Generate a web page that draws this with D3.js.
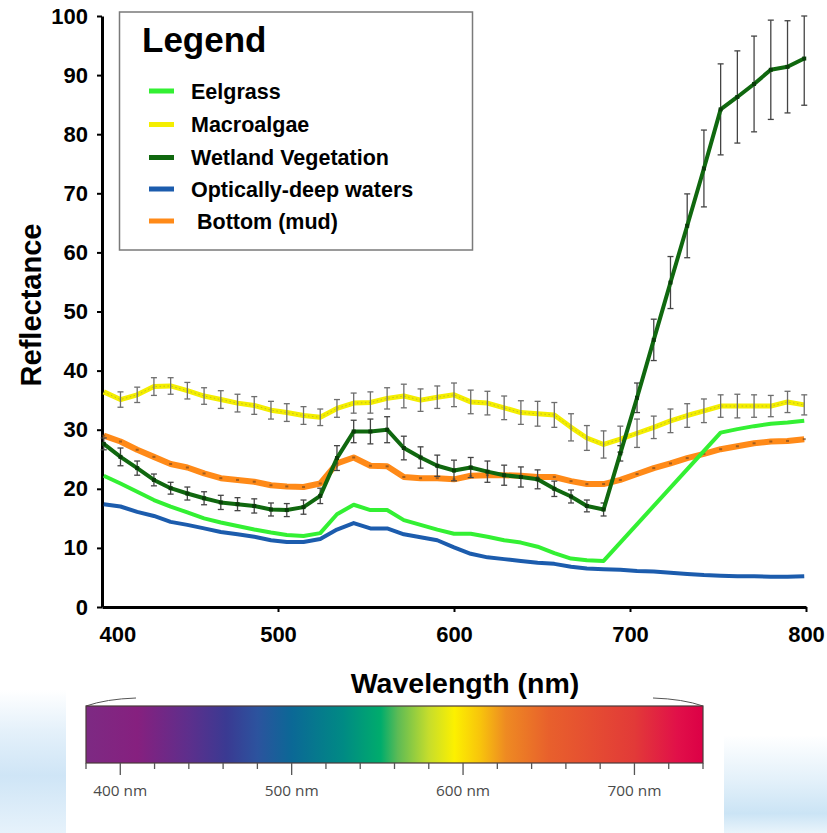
<!DOCTYPE html>
<html>
<head>
<meta charset="utf-8">
<script src="https://cdn.jsdelivr.net/npm/d3@7"></script>
<style>
  body { margin: 0; background: #fff; }
  svg { display: block; font-family: "Liberation Sans", Arial, sans-serif; }
</style>
</head>
<body>
<svg id="chart" width="827" height="833"></svg>
<script>
// band centres (nm)
const wavelengths = [401, 410.5, 420, 429.5, 439, 448.5, 458, 467.5, 477, 486.5, 496, 505, 514.5, 524, 533.5,
  543, 552.5, 562, 571.5, 581, 590.5, 600, 609.5, 619, 628.5, 638, 647.5, 657, 666.5, 675.5, 685, 694.5,
  704, 713.5, 723, 732.5, 742, 751.5, 761, 770.5, 780, 789.5, 799];

const eelgrass = [22.2, 20.9, 19.5, 18.1, 17.0, 16.0, 15.0, 14.3, 13.7, 13.1, 12.6, 12.2, 12.0, 12.5, 15.7,
  17.3, 16.4, 16.4, 14.7, 13.9, 13.1, 12.4, 12.4, 11.9, 11.3, 10.9, 10.2, 9.1, 8.2, 7.9, 7.8, null,
  null, null, null, null, null, 29.5, 30.1, 30.6, 31.0, 31.2, 31.5];

const macroalgae = [36.4, 35.1, 35.9, 37.3, 37.4, 36.6, 35.7, 35.1, 34.5, 34.1, 33.3, 32.9, 32.4, 32.1, 33.6,
  34.5, 34.6, 35.3, 35.7, 35.0, 35.5, 35.9, 34.7, 34.5, 33.7, 32.9, 32.7, 32.5, 30.4, 28.6, 27.5, 28.4,
  29.4, 30.4, 31.5, 32.4, 33.2, 34.0, 34.0, 34.0, 34.0, 34.7, 34.2];
const macroalgaeErr = [0, 1.3, 1.3, 1.5, 1.4, 1.4, 1.4, 1.5, 1.5, 1.5, 1.5, 1.5, 1.5, 1.4, 1.5,
  1.7, 1.8, 1.8, 2.0, 1.9, 1.9, 2.0, 2.0, 2.0, 2.0, 2.0, 2.1, 2.1, 2.3, 2.1, 2.3, 2.2,
  2.4, 1.9, 2.0, 2.0, 2.0, 1.9, 2.0, 1.9, 1.8, 1.8, 1.7];

const wetland = [27.6, 25.4, 23.5, 21.5, 20.1, 19.2, 18.4, 17.7, 17.4, 17.1, 16.5, 16.4, 16.9, 18.8, 25.2,
  29.7, 29.7, 30.0, 26.9, 25.3, 23.9, 23.1, 23.6, 22.9, 22.3, 22.0, 21.6, 20.0, 18.7, 17.1, 16.5, 26.0,
  35.4, 45.2, 54.9, 64.5, 74.2, 84.2, 86.3, 88.5, 90.9, 91.4, 92.8];
const wetlandErr = [1.0, 1.5, 1.2, 1.0, 1.0, 1.1, 1.1, 1.2, 1.1, 1.2, 1.1, 1.1, 1.2, 1.3, 2.1,
  1.9, 2.1, 2.2, 2.0, 1.8, 1.8, 1.75, 1.7, 1.8, 1.7, 1.7, 1.6, 1.3, 1.1, 1.0, 1.1, 1.3,
  2.5, 3.5, 4.4, 5.4, 6.5, 7.7, 7.8, 8.1, 8.4, 7.8, 7.9];

const deepWater = [17.4, 17.0, 16.1, 15.4, 14.4, 13.9, 13.3, 12.7, 12.3, 11.9, 11.3, 11.0, 11.0, 11.5, 13.1,
  14.2, 13.3, 13.3, 12.3, 11.8, 11.3, 10.1, 9.0, 8.4, 8.1, 7.8, 7.5, 7.3, 6.8, 6.5, 6.4, 6.3,
  6.1, 6.0, 5.8, 5.6, 5.4, 5.3, 5.2, 5.2, 5.1, 5.1, 5.2];

const mud = [29.0, 28.0, 26.6, 25.4, 24.2, 23.6, 22.6, 21.8, 21.5, 21.2, 20.6, 20.4, 20.3, 20.9, 24.3,
  25.3, 23.9, 23.8, 22.0, 21.8, 21.8, 21.6, 22.2, 22.3, 22.3, 22.2, 22.0, 22.0, 21.3, 20.8, 20.8, 21.5,
  22.5, 23.5, 24.3, 25.2, 25.9, 26.7, 27.2, 27.7, 28.0, 28.1, 28.4];

const seriesNames = ['Eelgrass', 'Macroalgae', 'Wetland Vegetation', 'Optically-deep waters', ' Bottom (mud)'];
const seriesColors = ['#33f033', '#f4ee00', '#10680f', '#1c5cad', '#ff8a18'];

const yTicks = [0, 10, 20, 30, 40, 50, 60, 70, 80, 90, 100];
const xTicks = [400, 500, 600, 700, 800];

// visible spectrum strip
const spectrumNm = [380, 410, 440, 462, 480, 500, 530, 552, 562, 580, 595, 610, 625, 650, 700, 725, 740];
const spectrumColors = ['#7d2a83', '#86207f', '#5d2f8c', '#3a3a92', '#2c539e', '#0b6896', '#008a84', '#00ac6c',
  '#5dbb55', '#c6dd2c', '#fcf000', '#f8c40c', '#ee8a22', '#e8602c', '#e23a38', '#e11049', '#dc0046'];
const spectrumTicks = [380, 400, 420, 440, 460, 480, 500, 520, 540, 560, 580, 600, 620, 640, 660, 680, 700, 720, 740];
const spectrumLabels = [400, 500, 600, 700];

const svg = d3.select('#chart');
const defs = svg.append('defs');

const x = d3.scaleLinear().domain([400, 800]).range([102, 806]);
const y = d3.scaleLinear().domain([0, 100]).range([607, 16]);

// soft blue backdrop at the bottom corners
const bgLeft = defs.append('linearGradient').attr('id', 'bgLeft').attr('x1', 0).attr('x2', 0).attr('y1', 0).attr('y2', 1);
bgLeft.append('stop').attr('offset', 0).attr('stop-color', '#ffffff');
bgLeft.append('stop').attr('offset', 0.3).attr('stop-color', '#e3f0fa');
bgLeft.append('stop').attr('offset', 0.6).attr('stop-color', '#cfe5f6');
bgLeft.append('stop').attr('offset', 1).attr('stop-color', '#e6f2fb');
svg.append('rect').attr('x', 0).attr('y', 690).attr('width', 66).attr('height', 143).attr('fill', 'url(#bgLeft)');

const bgRight = defs.append('linearGradient').attr('id', 'bgRight').attr('x1', 0).attr('x2', 0).attr('y1', 0).attr('y2', 1);
bgRight.append('stop').attr('offset', 0).attr('stop-color', '#ffffff');
bgRight.append('stop').attr('offset', 0.45).attr('stop-color', '#e4f1fa');
bgRight.append('stop').attr('offset', 0.8).attr('stop-color', '#cbe4f5');
bgRight.append('stop').attr('offset', 1).attr('stop-color', '#e9f4fb');
svg.append('rect').attr('x', 724).attr('y', 735).attr('width', 103).attr('height', 98).attr('fill', 'url(#bgRight)');

// axes
const yAxis = d3.axisLeft(y).tickValues(yTicks).tickSize(5).tickSizeOuter(0).tickPadding(9);
const xAxis = d3.axisBottom(x).tickValues(xTicks).tickSize(5).tickSizeOuter(0).tickPadding(14);

const gy = svg.append('g').attr('transform', 'translate(102,0)').call(yAxis);
const gx = svg.append('g').attr('transform', 'translate(0,607)').call(xAxis);

[gx, gy].forEach(g => {
  g.select('.domain').attr('stroke', '#000').attr('stroke-width', 3);
  g.selectAll('.tick line').attr('stroke', '#000').attr('stroke-width', 2);
  g.selectAll('.tick text')
    .attr('fill', '#000')
    .style('font-family', '"Liberation Sans", Arial, sans-serif')
    .style('font-size', '22px')
    .style('font-weight', 'bold');
});
gx.selectAll('.tick').filter(d => d === 400).select('line').remove();
gx.selectAll('.tick').filter(d => d === 400).select('text').attr('text-anchor', 'start').attr('x', -3);

// axis titles
svg.append('text')
  .attr('transform', 'translate(41,305) rotate(-90)')
  .attr('text-anchor', 'middle')
  .style('font-size', '29px').style('font-weight', 'bold')
  .text('Reflectance');

svg.append('text')
  .attr('x', 465).attr('y', 693)
  .attr('text-anchor', 'middle')
  .style('font-size', '28.5px').style('font-weight', 'bold')
  .text('Wavelength (nm)');

// series
const pts = vals => wavelengths.map((w, i) => ({ w, v: vals[i] })).filter(d => d.v !== null);
const line = d3.line().x(d => x(d.w)).y(d => y(d.v));

const plot = svg.append('g');

function errorBars(vals, errs, color, width) {
  const g = plot.append('g').attr('stroke', color).attr('stroke-width', width);
  const data = wavelengths.map((w, i) => ({ w, v: vals[i], e: errs[i] })).filter(d => d.e > 0);
  g.selectAll('.eb').data(data).enter().append('line')
    .attr('x1', d => x(d.w)).attr('x2', d => x(d.w))
    .attr('y1', d => y(Math.min(d.v + d.e, 100))).attr('y2', d => y(d.v - d.e));
  g.selectAll('.capt').data(data).enter().append('line')
    .attr('x1', d => x(d.w) - 3).attr('x2', d => x(d.w) + 3)
    .attr('y1', d => y(Math.min(d.v + d.e, 100))).attr('y2', d => y(Math.min(d.v + d.e, 100)));
  g.selectAll('.capb').data(data).enter().append('line')
    .attr('x1', d => x(d.w) - 3).attr('x2', d => x(d.w) + 3)
    .attr('y1', d => y(d.v - d.e)).attr('y2', d => y(d.v - d.e));
}

// Macroalgae
plot.append('path').datum(pts(macroalgae)).attr('d', line)
  .attr('fill', 'none').attr('stroke', seriesColors[1]).attr('stroke-width', 5).attr('stroke-linejoin', 'round');
plot.append('path').datum(pts(macroalgae)).attr('d', line)
  .attr('fill', 'none').attr('stroke', '#8a8a4a').attr('stroke-width', 0.8)
  .attr('stroke-dasharray', '1.5,2.5').attr('opacity', 0.6);
errorBars(macroalgae, macroalgaeErr, '#6e6e6e', 1.3);

// Bottom (mud)
plot.append('path').datum(pts(mud)).attr('d', line)
  .attr('fill', 'none').attr('stroke', seriesColors[4]).attr('stroke-width', 6).attr('stroke-linejoin', 'round');
plot.append('g').selectAll('rect').data(pts(mud)).enter().append('rect')
  .attr('x', d => x(d.w) - 1.5).attr('y', d => y(d.v) - 1).attr('width', 3).attr('height', 2)
  .attr('fill', '#7a4a20').attr('opacity', 0.7);

// Wetland vegetation
errorBars(wetland, wetlandErr, '#444', 1.3);
plot.append('path').datum(pts(wetland)).attr('d', line)
  .attr('fill', 'none').attr('stroke', seriesColors[2]).attr('stroke-width', 4).attr('stroke-linejoin', 'round');
plot.append('g').selectAll('rect').data(pts(wetland)).enter().append('rect')
  .attr('x', d => x(d.w) - 2).attr('y', d => y(d.v) - 2).attr('width', 4).attr('height', 4)
  .attr('fill', '#0a3d0a');

// Eelgrass
plot.append('path').datum(pts(eelgrass)).attr('d', line)
  .attr('fill', 'none').attr('stroke', seriesColors[0]).attr('stroke-width', 4).attr('stroke-linejoin', 'round');

// Optically-deep waters
plot.append('path').datum(pts(deepWater)).attr('d', line)
  .attr('fill', 'none').attr('stroke', seriesColors[3]).attr('stroke-width', 4).attr('stroke-linejoin', 'round');

// legend
const legend = svg.append('g');
legend.append('rect').attr('x', 119.5).attr('y', 12).attr('width', 353).attr('height', 238)
  .attr('fill', '#fff').attr('stroke', '#7a7a7a').attr('stroke-width', 1.5);
legend.append('text').attr('x', 142).attr('y', 52)
  .style('font-size', '35px').style('font-weight', 'bold').text('Legend');
const legendY = [91, 124.5, 157.5, 189, 221];
seriesNames.forEach((name, i) => {
  legend.append('rect').attr('x', 149).attr('y', legendY[i] - 2.5).attr('width', 25).attr('height', 5)
    .attr('fill', seriesColors[i]);
  legend.append('text').attr('x', 191).attr('y', legendY[i] + 7.5)
    .attr('xml:space', 'preserve').style('white-space', 'pre')
    .style('font-size', '21.5px').style('font-weight', 'bold').text(name);
});

// spectrum strip
const sx = d3.scaleLinear().domain([380, 740]).range([86, 703]);
const grad = defs.append('linearGradient').attr('id', 'spectrum')
  .attr('gradientUnits', 'userSpaceOnUse')
  .attr('x1', sx(380)).attr('x2', sx(740)).attr('y1', 0).attr('y2', 0);
spectrumNm.forEach((nm, i) => {
  grad.append('stop').attr('offset', (nm - 380) / 360).attr('stop-color', spectrumColors[i]);
});
svg.append('path')
  .attr('d', `M${sx(380)},706 Q${sx(380) + 20},699 ${sx(380) + 50},698`)
  .attr('fill', 'none').attr('stroke', '#555').attr('stroke-width', 1);
svg.append('path')
  .attr('d', `M${sx(740)},706 Q${sx(740) - 20},699 ${sx(740) - 50},698`)
  .attr('fill', 'none').attr('stroke', '#555').attr('stroke-width', 1);
svg.append('rect').attr('x', sx(380)).attr('y', 706).attr('width', sx(740) - sx(380)).attr('height', 57)
  .attr('fill', 'url(#spectrum)').attr('stroke', '#4a3a3a').attr('stroke-width', 1.2);

const sAxis = svg.append('g');
sAxis.selectAll('line').data(spectrumTicks).enter().append('line')
  .attr('x1', d => sx(d)).attr('x2', d => sx(d))
  .attr('y1', 763).attr('y2', d => spectrumLabels.includes(d) ? 775 : 769)
  .attr('stroke', '#555').attr('stroke-width', 1.3);
sAxis.selectAll('text').data(spectrumLabels).enter().append('text')
  .attr('x', d => sx(d)).attr('y', 796)
  .attr('text-anchor', 'middle')
  .attr('fill', '#4a4a4a')
  .style('font-family', '"Open Sans", "Noto Sans", sans-serif')
  .style('font-size', '15px')
  .attr('textLength', 54).attr('lengthAdjust', 'spacingAndGlyphs')
  .text(d => d + ' nm');
</script>
</body>
</html>
